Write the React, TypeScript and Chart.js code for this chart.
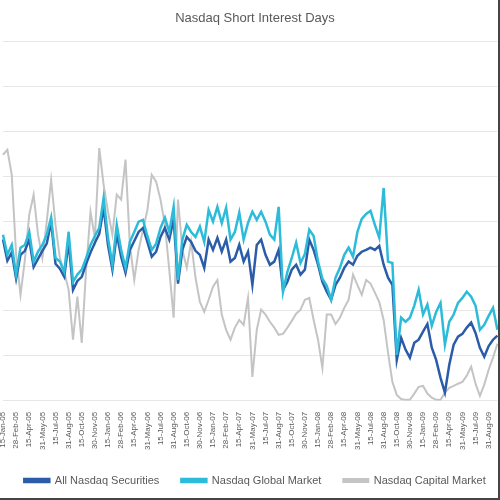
import { useEffect, useRef } from 'react';
import { Chart, registerables } from 'chart.js';

Chart.register(...registerables);

// half-monthly settlement dates, Jan 2005 – Sep 2009
const monthNames = ['Jan', 'Feb', 'Mar', 'Apr', 'May', 'Jun', 'Jul', 'Aug', 'Sep', 'Oct', 'Nov', 'Dec'];
const monthEnds = [31, 28, 31, 30, 31, 30, 31, 31, 30, 31, 30, 31];
const years = [5, 6, 7, 8, 9];

const dates: string[] = [];
for (const y of years) {
  monthNames.forEach((m, i) => {
    if (y === 9 && i > 8) return;
    const yy = String(y).padStart(2, '0');
    dates.push(`15-${m}-${yy}`);
    dates.push(`${monthEnds[i]}-${m}-${yy}`);
  });
}

const allNasdaq = [
  3.59, 3.12, 3.30, 2.72, 3.25, 3.34, 3.59, 2.98, 3.16, 3.34,
  3.50, 3.99, 3.05, 2.94, 2.76, 3.54, 2.47, 2.67, 2.76, 3.05,
  3.30, 3.52, 3.72, 4.30, 3.47, 2.92, 3.72, 3.21, 2.85, 3.36,
  3.56, 3.76, 3.85, 3.54, 3.21, 3.32, 3.65, 3.85, 3.59, 4.05,
  2.61, 3.36, 3.65, 3.54, 3.34, 3.25, 2.96, 3.59, 3.36, 3.63,
  3.32, 3.59, 3.10, 3.18, 3.47, 3.10, 3.32, 2.58, 3.47, 3.59,
  3.25, 3.03, 3.10, 3.36, 2.47, 2.65, 2.92, 3.03, 2.81, 2.92,
  3.59, 3.36, 3.03, 2.65, 2.43, 2.25, 2.58, 2.74, 2.96, 3.10,
  3.03, 3.23, 3.32, 3.36, 3.41, 3.36, 3.45, 3.03, 2.74, 2.58,
  0.91, 1.40, 1.14, 0.96, 1.29, 1.36, 1.54, 1.71, 1.18, 0.91,
  0.51, 0.18, 0.80, 1.25, 1.43, 1.49, 1.63, 1.74, 1.51, 1.18,
  0.98, 1.22, 1.36, 1.45,
];

const globalMarket = [
  3.70, 3.25, 3.47, 2.81, 3.41, 3.47, 3.76, 3.10, 3.32, 3.47,
  3.70, 4.08, 3.18, 3.10, 2.87, 3.76, 2.65, 2.81, 2.92, 3.18,
  3.47, 3.67, 3.85, 4.52, 3.63, 3.03, 3.92, 3.36, 2.96, 3.54,
  3.76, 3.99, 4.03, 3.67, 3.36, 3.50, 3.85, 4.08, 3.76, 4.32,
  2.69, 3.59, 3.92, 3.76, 3.65, 3.88, 3.54, 4.25, 3.99, 4.32,
  3.96, 4.30, 3.59, 3.76, 4.19, 3.59, 3.96, 4.21, 4.03, 4.21,
  3.99, 3.70, 3.59, 4.32, 2.43, 2.87, 3.18, 3.52, 3.07, 3.27,
  3.81, 3.67, 3.10, 2.72, 2.56, 2.25, 2.74, 2.96, 3.25, 3.41,
  3.21, 3.76, 4.05, 4.16, 4.23, 3.92, 3.63, 4.74, 3.10, 3.07,
  1.02, 1.85, 1.76, 1.85, 2.12, 2.47, 1.92, 2.14, 1.67, 1.98,
  2.18, 1.25, 1.76, 1.92, 2.18, 2.29, 2.43, 2.32, 2.12, 1.58,
  1.69, 1.89, 2.07, 1.58,
];

const capitalMarket = [
  5.48, 5.59, 5.03, 3.25, 2.36, 3.14, 4.14, 4.59, 3.70, 3.18,
  3.99, 4.92, 3.92, 3.18, 2.87, 2.47, 1.36, 2.32, 1.29, 2.92,
  4.21, 3.63, 5.63, 4.81, 4.21, 3.70, 4.59, 4.48, 5.37, 3.47,
  2.69, 3.36, 3.81, 4.25, 5.03, 4.88, 4.48, 3.92, 2.92, 1.85,
  4.48, 3.36, 2.96, 3.54, 2.74, 2.20, 1.98, 2.25, 2.54, 2.69,
  1.92, 1.58, 1.36, 1.63, 1.80, 1.69, 2.29, 0.53, 1.58, 2.03,
  1.92, 1.76, 1.63, 1.47, 1.49, 1.63, 1.78, 1.94, 2.03, 2.25,
  2.29, 1.80, 1.36, 0.73, 1.92, 1.92, 1.71, 1.85, 2.07, 2.25,
  2.81, 2.58, 2.36, 2.69, 2.61, 2.41, 2.20, 1.80, 1.07, 0.42,
  0.13, 0.04, 0.02, 0.02, 0.16, 0.31, 0.33, 0.16, 0.07, 0.02,
  0.02, 0.18, 0.29, 0.33, 0.38, 0.42, 0.56, 0.76, 0.38, 0.11,
  0.36, 0.69, 0.96, 1.27,
];

const textColor = '#595959';
const fontFamily = '"Liberation Sans", Arial, sans-serif';

function ShortInterestChart() {
  const canvasRef = useRef<HTMLCanvasElement>(null);
  const chartRef = useRef<Chart | null>(null);

  useEffect(() => {
    if (!canvasRef.current) return;
    if (chartRef.current) chartRef.current.destroy();

    chartRef.current = new Chart(canvasRef.current, {
      type: 'line',
      data: {
        labels: dates,
        datasets: [
          {
            label: 'All Nasdaq Securities',
            data: allNasdaq,
            borderColor: '#2B5CA8',
            backgroundColor: '#2B5CA8',
            borderWidth: 2.5,
            pointRadius: 0,
            tension: 0,
            order: 1,
          },
          {
            label: 'Nasdaq Global Market',
            data: globalMarket,
            borderColor: '#2CBCD9',
            backgroundColor: '#2CBCD9',
            borderWidth: 2.5,
            pointRadius: 0,
            tension: 0,
            order: 0,
          },
          {
            label: 'Nasdaq Capital Market',
            data: capitalMarket,
            borderColor: '#C4C4C4',
            backgroundColor: '#C4C4C4',
            borderWidth: 2,
            pointRadius: 0,
            tension: 0,
            order: 2,
          },
        ],
      },
      options: {
        animation: false,
        responsive: true,
        maintainAspectRatio: false,
        layout: { padding: { left: 0, right: 0, top: 0, bottom: 2 } },
        plugins: {
          title: {
            display: true,
            text: 'Nasdaq Short Interest Days',
            color: textColor,
            font: { family: fontFamily, size: 13, weight: 'normal' },
            padding: { top: 11, bottom: 15 },
          },
          legend: {
            display: true,
            position: 'bottom',
            labels: {
              color: textColor,
              font: { family: fontFamily, size: 11 },
              boxWidth: 25,
              boxHeight: 3,
              padding: 22,
              sort: (a, b) => (a.datasetIndex ?? 0) - (b.datasetIndex ?? 0),
            },
          },
          tooltip: { enabled: false },
        },
        scales: {
          x: {
            grid: { display: false },
            border: { display: false },
            ticks: {
              autoSkip: false,
              maxRotation: 90,
              minRotation: 90,
              color: textColor,
              font: { family: fontFamily, size: 8 },
              callback: (_v, i) => (i % 3 === 0 ? dates[i] : ''),
            },
          },
          y: {
            min: 0,
            max: 8,
            ticks: { display: false, stepSize: 1 },
            border: { display: false },
            grid: { color: '#E6E6E6', lineWidth: 1, drawTicks: false },
          },
        },
      },
    });

    return () => chartRef.current?.destroy();
  }, []);

  return (
    <div
      style={{
        position: 'absolute',
        left: 0,
        top: 0,
        width: 500,
        height: 500,
        boxSizing: 'border-box',
        borderRight: '2px solid #444',
        borderBottom: '2px solid #444',
        overflow: 'hidden',
        background: '#fff',
      }}
    >
      <div style={{ width: 510, height: 498 }}>
        <canvas ref={canvasRef} />
      </div>
    </div>
  );
}

export default function App() {
  return <ShortInterestChart />;
}
